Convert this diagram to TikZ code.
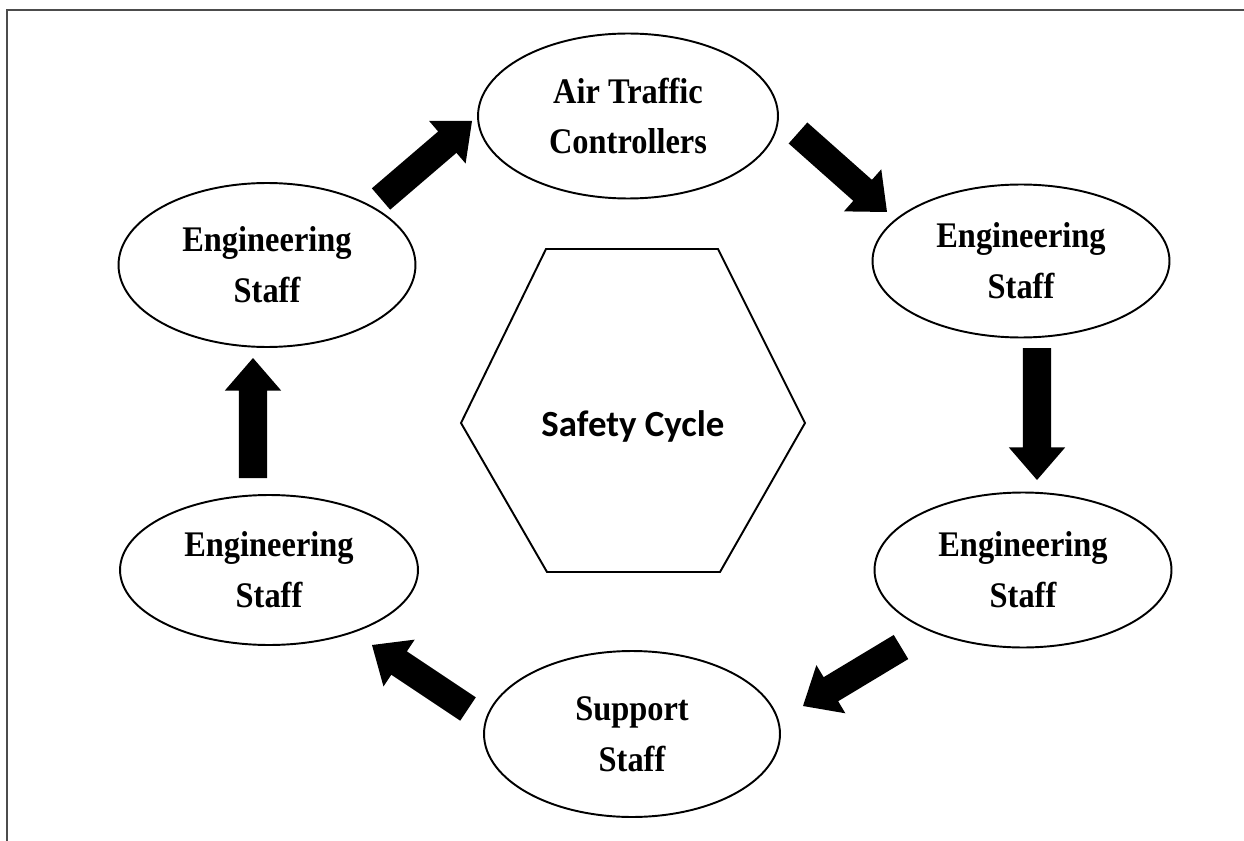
\documentclass[tikz,border=0pt]{standalone}
\usepackage{fontspec}
\setmainfont[FakeStretch=0.9]{Liberation Serif}
\newfontfamily\calibrifont{Carlito}
\usetikzlibrary{shapes.geometric,calc}
\begin{document}
\begin{tikzpicture}[x=0.02cm,y=-0.02cm,
  oval/.style={ellipse,draw,line width=1.1pt,inner sep=0pt},
  lbl/.style={font=\bfseries\fontsize{20.5}{29}\selectfont,align=center},
  hexline/.style={draw,line width=1.1pt,line join=miter},
  framebar/.style={draw=black!70,line width=1.2pt},
  bigarrow/.style={fill=black,to path={
    let \p1=(\tikztostart),\p2=(\tikztotarget),
        \n1={atan2(\y2-\y1,\x2-\x1)},
        \n2={veclen(\x2-\x1,\y2-\y1)-18.5}
    in ($(\p1)+(\n1+90:8pt)$)
    -- ($(\p1)+(\n1:\n2)+(\n1+90:8pt)$)
    -- ($(\p1)+(\n1:\n2)+(\n1+90:16pt)$)
    -- (\p2)
    -- ($(\p1)+(\n1:\n2)+(\n1-90:16pt)$)
    -- ($(\p1)+(\n1:\n2)+(\n1-90:8pt)$)
    -- ($(\p1)+(\n1-90:8pt)$) -- cycle}}]
\useasboundingbox (0,0) rectangle (1244,841);
% frame
\coordinate (ftr) at (1244,10);
\coordinate (ftl) at (7,10);
\coordinate (fbl) at (7,841);
\path[framebar] (ftr) -- (ftl) -- (fbl);
% ellipses
\node[oval,lbl,minimum width=6cm,minimum height=3.3cm] (atc) at (628,116) {Air Traffic\\Controllers};
\node[oval,lbl,minimum width=5.94cm,minimum height=3.06cm] (ru) at (1021,261) {Engineering\\Staff};
\node[oval,lbl,minimum width=5.94cm,minimum height=3.1cm] (rl) at (1023,570) {Engineering\\Staff};
\node[oval,lbl,minimum width=5.92cm,minimum height=3.32cm] (ss) at (632,734) {Support\\Staff};
\node[oval,lbl,minimum width=5.96cm,minimum height=3.0cm] (ll) at (269,570) {Engineering\\Staff};
\node[oval,lbl,minimum width=5.94cm,minimum height=3.28cm] (lu) at (267,265) {Engineering\\Staff};
% hexagon
\coordinate (h1) at (546,249);
\coordinate (h2) at (718,249);
\coordinate (h3) at (805,423);
\coordinate (h4) at (720,572);
\coordinate (h5) at (547,572);
\coordinate (h6) at (461,423);
\path[hexline] (h1) -- (h2) -- (h3) -- (h4) -- (h5) -- (h6) -- cycle;
\node[font=\calibrifont\bfseries\fontsize{21}{25}\selectfont] (sc) at (633,426) {Safety Cycle};
% arrows
\coordinate (a1s) at (381,199); \coordinate (a1e) at (472,121);
\coordinate (a2s) at (798,133); \coordinate (a2e) at (887,212);
\coordinate (a3s) at (1037,348); \coordinate (a3e) at (1037,480);
\coordinate (a4s) at (901,647); \coordinate (a4e) at (803,706);
\coordinate (a5s) at (468,709); \coordinate (a5e) at (372,645);
\coordinate (a6s) at (253,478); \coordinate (a6e) at (253,358);
\path[bigarrow] (a1s) to (a1e);
\path[bigarrow] (a2s) to (a2e);
\path[bigarrow] (a3s) to (a3e);
\path[bigarrow] (a4s) to (a4e);
\path[bigarrow] (a5s) to (a5e);
\path[bigarrow] (a6s) to (a6e);
\end{tikzpicture}
\end{document}
